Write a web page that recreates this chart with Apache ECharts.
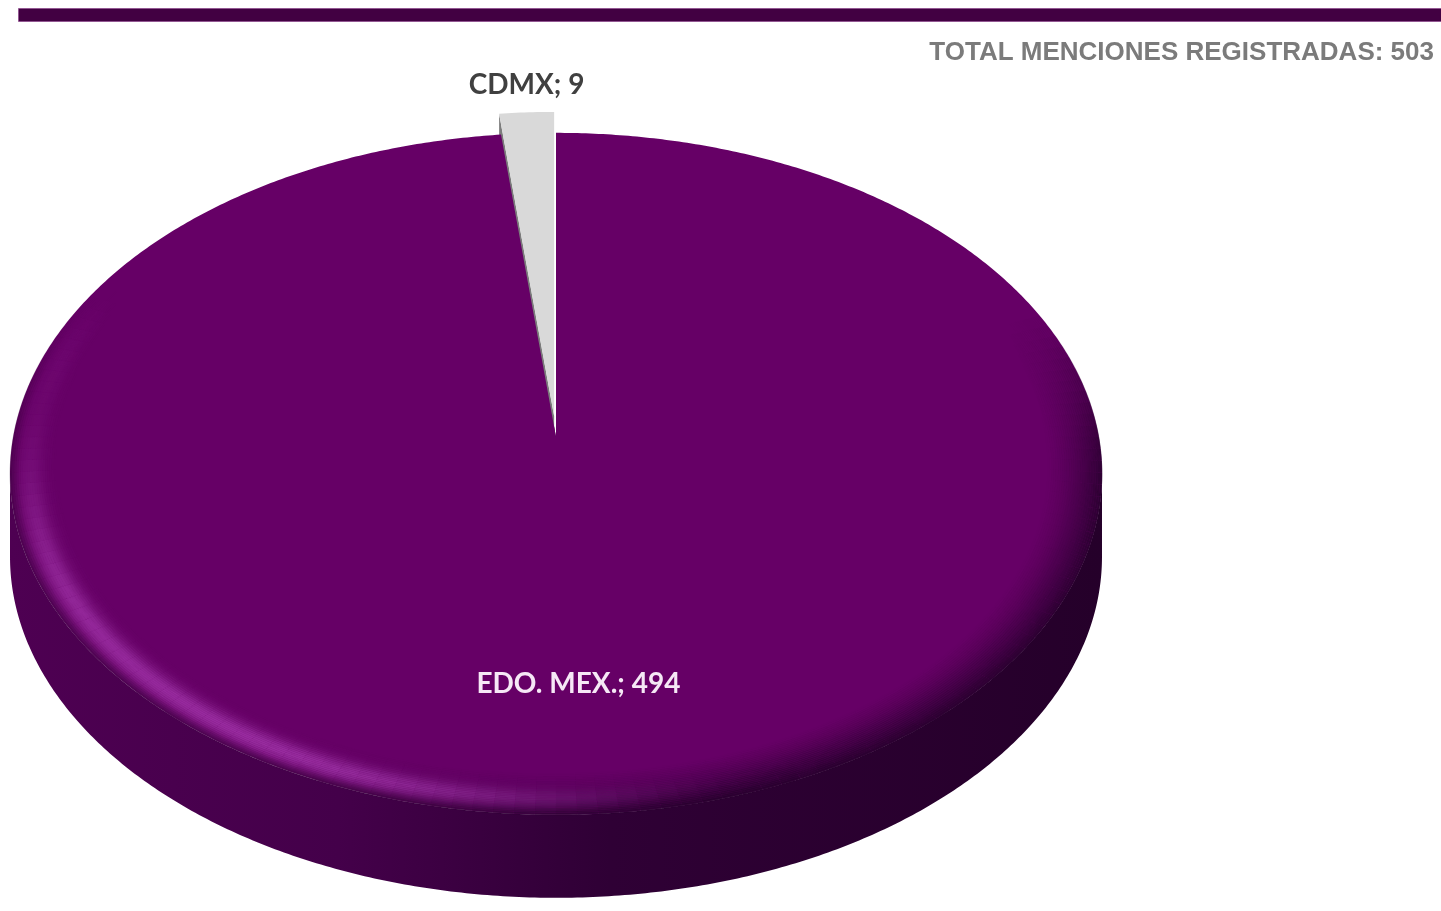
<!DOCTYPE html>
<html>
<head>
<meta charset="utf-8">
<script src="https://cdn.jsdelivr.net/npm/echarts@6/dist/echarts.min.js"></script>
<style>
html,body{margin:0;padding:0;background:#ffffff;}
#chart{width:1441px;height:911px;}
</style>
</head>
<body>
<div id="chart"></div>
<script>
// ---------------- DATA ----------------
const categories = ['EDO. MEX.', 'CDMX'];
const values = [494, 9];
const explodedSlices = ['CDMX'];
const titleText = 'TOTAL MENCIONES REGISTRADAS: 503';

// ---------------- LAYOUT / STYLE ----------------
const L = { cx: 556, cy: 437, A: 542.8, B: 337, p: 0.108, depth: 83, explode: 21 };
const topColors = ['#660066', '#d9d9d9'];
const cutColors = ['#3a003e', '#7c7c7c'];
const labelColors = ['#f6e8f6', '#404040'];
const sideGradient = [
  { offset: 0, color: '#4e0052' },
  { offset: 0.3, color: '#44004a' },
  { offset: 0.55, color: '#2f0035' },
  { offset: 1, color: '#25002a' }
];

const total = values.reduce((a, b) => a + b, 0);
const starts = [];
(function () { let s = 0; values.forEach(v => { starts.push(s); s += v / total * 360; }); })();

function proj(r, deg) {
  const t = deg * Math.PI / 180;
  const u = r * Math.sin(t), v = r * Math.cos(t);
  const w = 1 + L.p * v;
  return [L.cx + L.A * u / w, L.cy - L.B * v / w];
}
function arcPts(r, a0, a1, off, dy, stepDeg) {
  const n = Math.max(2, Math.ceil(Math.abs(a1 - a0) / (stepDeg || 0.5)));
  const pts = [];
  for (let k = 0; k <= n; k++) {
    const p = proj(r, a0 + (a1 - a0) * k / n);
    pts.push([p[0] + off[0], p[1] + off[1] + (dy || 0)]);
  }
  return pts;
}
function sliceGeom(i, value) {
  const a0 = starts[i];
  const a1 = a0 + value / total * 360;
  const mid = (a0 + a1) / 2;
  let off = [0, 0];
  if (explodedSlices.indexOf(categories[i]) >= 0) {
    const m = proj(1, mid);
    const dx = m[0] - L.cx, dy = m[1] - L.cy;
    const len = Math.sqrt(dx * dx + dy * dy);
    off = [dx / len * L.explode, dy / len * L.explode];
  }
  return { a0, a1, mid, off };
}
const silAngle = Math.acos(-L.p) * 180 / Math.PI; // silhouette angle of front arc

function clamp01(x) { return Math.max(0, Math.min(1, x)); }
function smooth(e0, e1, x) { const t = clamp01((x - e0) / (e1 - e0)); return t * t * (3 - 2 * t); }

// side walls & radial cut faces
function renderSides(params, api) {
  const i = params.dataIndex;
  const g = sliceGeom(i, api.value(0));
  const c = [L.cx + g.off[0], L.cy + g.off[1]];
  const children = [];
  [g.a0, g.a1].forEach(a => {
    const rp = proj(1, a);
    const r = [rp[0] + g.off[0], rp[1] + g.off[1]];
    children.push({
      type: 'polygon',
      shape: { points: [c, r, [r[0], r[1] + L.depth], [c[0], c[1] + L.depth]] },
      style: { fill: cutColors[i] }
    });
  });
  const lo = Math.max(g.a0, silAngle), hi = Math.min(g.a1, 360 - silAngle);
  if (hi > lo) {
    const top = arcPts(1, lo, hi, g.off, 0);
    const bot = arcPts(1, lo, hi, g.off, L.depth).reverse();
    children.push({
      type: 'polygon',
      shape: { points: top.concat(bot) },
      style: { fill: { type: 'linear', x: 0, y: 0, x2: 1, y2: 0, colorStops: sideGradient } }
    });
  }
  return { type: 'group', children };
}

// top faces
function renderTops(params, api) {
  const i = params.dataIndex;
  const v = api.value(0);
  const g = sliceGeom(i, v);
  const c = [L.cx + g.off[0], L.cy + g.off[1]];
  const pts = [c].concat(arcPts(1, g.a0, g.a1, g.off, 0));
  return { type: 'polygon', shape: { points: pts }, style: { fill: topColors[i] } };
}

// bevel shading along the front rim (soft highlight at left, shadow at right)
const darkC = [36, 0, 42], lightC = [172, 62, 182];
function bevelColor(theta, d) {
  const ws = smooth(66, 100, theta) * (1 - smooth(160, 215, theta));
  const wh = smooth(158, 212, theta) * (1 - smooth(238, 276, theta) * 0.85);
  const wr = smooth(150, 205, theta) * (1 - smooth(258, 298, theta));
  const as = 0.85 * ws * Math.pow(1 - d, 1.5);
  const ar = 0.4 * wr * Math.max(0, 1 - d / 0.18);
  const ah = 0.62 * wh * Math.exp(-Math.pow((d - 0.36) / 0.24, 2)) * (1 - smooth(280, 300, theta));
  const ad = 1 - (1 - as) * (1 - ar);
  const a = ah + ad * (1 - ah);
  if (a < 0.004) return null;
  const col = [0, 1, 2].map(k => Math.round((lightC[k] * ah + darkC[k] * ad * (1 - ah)) / a));
  return 'rgba(' + col.join(',') + ',' + a.toFixed(3) + ')';
}
function renderBevel(params, api) {
  const i = params.dataIndex;
  const g = sliceGeom(i, api.value(0));
  const lo = Math.max(g.a0, 60), hi = Math.min(g.a1, 300);
  const children = [];
  if (hi <= lo) return { type: 'group', children };
  const K = 26, step = 0.004, seg = 2;
  for (let k = 0; k < K; k++) {
    const d = k / (K - 1);
    const r = 1 - k * step - 0.0015;
    for (let t = lo; t < hi; t += seg) {
      const t1 = Math.min(hi, t + seg);
      const color = bevelColor((t + t1) / 2, d);
      if (!color) continue;
      children.push({
        type: 'polyline',
        shape: { points: arcPts(r, t, t1, g.off, 0, 0.7) },
        style: { fill: null, stroke: color, lineWidth: 2.3, lineCap: 'butt' }
      });
    }
  }
  return { type: 'group', children };
}

function renderLabels(params, api) {
  const i = params.dataIndex;
  const v = api.value(0);
  const g = sliceGeom(i, v);
  let pos;
  if (v / total < 0.05) {
    const m = proj(1, g.mid);
    pos = [m[0] + g.off[0], m[1] + g.off[1] - 27];
  } else {
    const m = proj(0.68, g.mid);
    pos = [m[0] + g.off[0], m[1] + g.off[1]];
  }
  return {
    type: 'text', x: pos[0], y: pos[1],
    style: {
      text: categories[i] + '; ' + v,
      font: 'bold 28px Lato, "Open Sans", sans-serif',
      fill: labelColors[i], align: 'center', verticalAlign: 'middle'
    }
  };
}

const seriesData = values.map((v, i) => ({ name: categories[i], value: v }));

const chart = echarts.init(document.getElementById('chart'), null, { renderer: 'canvas' });
chart.setOption({
  backgroundColor: '#ffffff',
  animation: false,
  title: {
    text: titleText, right: 2, top: 35,
    textStyle: { fontFamily: '"Liberation Sans", Arial, sans-serif', fontSize: 26, fontWeight: 'bold', color: '#7b7b7b' }
  },
  graphic: [{
    type: 'rect', left: 18, top: 8, shape: { width: 1423, height: 13 },
    style: { fill: '#420042', stroke: 'rgba(140,70,140,0.7)', lineWidth: 1 }
  }],
  series: [
    { type: 'custom', coordinateSystem: 'none', z: 2, silent: true, data: seriesData, renderItem: renderSides },
    { type: 'custom', coordinateSystem: 'none', z: 3, silent: true, data: seriesData, renderItem: renderTops },
    { type: 'custom', coordinateSystem: 'none', z: 4, silent: true, data: seriesData, renderItem: renderBevel },
    { type: 'custom', coordinateSystem: 'none', z: 5, silent: true, data: seriesData, renderItem: renderLabels }
  ]
});
</script>
</body>
</html>
